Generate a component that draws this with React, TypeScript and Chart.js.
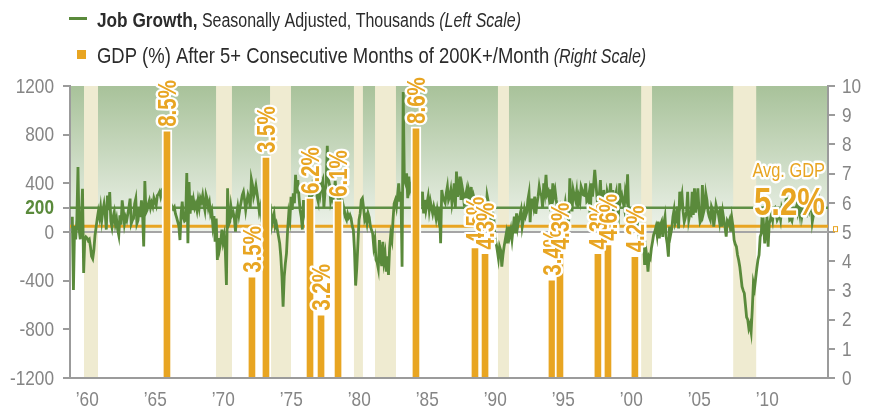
import React, { useEffect, useRef } from 'react';
import { Chart, registerables } from 'chart.js';

Chart.register(...registerables);

const FONT = "'Liberation Sans', Arial, sans-serif";
const SX = 0.82; // horizontal compression to mimic a condensed face
const GREEN = '#5a8a3b';
const ORANGE = '#e8a522';
const GRAY = '#858585';
const TEXT = '#2b2b2b';

// Monthly job growth (thousands), starting July 1959
const jobStart = 1959.5;
const jobs1959to1969 = [
  126, -477, 50, -60, 100, 534,
  20, -60, 120, 356, -337, -60, -40, -50, -70, -60, -120, -200,
  -219, -150, -30, 40, 110, 170, 120, 200, 100, 180, 230, 150,
  20, 300, 180, 329, 90, 40, 123, 164, 68, 110, 20, -27,
  137, 60, 260, 178, 68, 123, 96, 150, 205, 274, 68, 96,
  110, 233, 274, 68, 96, 205, 123, 260, 150, -118, 419, 160,
  180, 230, 260, 200, 240, 210, 280, 250, 220, 300, 310, 330,
  290, 330, 310, 250, 280, 300, 200, 220, 200, 180, 210, 190,
  205, 150, 120, 85, 50, -66, 150, 250, 120, 90, 100, 485,
  -93, 411, 150, 300, 180, 260, 200, 230, 180, 260, 200, 277,
  250, 300, 230, 180, 304, 270, 200, 240, 150, 180, 58, 130,
];
const jobs1970to1979 = [
  -80, 110, -230, -50, -134, -80, 20, -80, -30, -150, -436, 359,
  60, 85, 208, 140, 160, 112, 3, 150, 208, 140, 200, 249,
  304, 330, 263, 181, 250, 304, 270, 200, 433, 386, 290, 330,
  380, 318, 250, 167, 208, 126, 150, 263, 200, 300, 250, 150,
  153, 181, 60, 112, 150, 44, 70, 16, -38, -93, -203, -367,
  -614, -367, -258, -175, 16, 153, 100, 290, 181, 318, 236, 470,
  318, 427, 290, 181, 126, 20, 263, 160, 200, 140, 230, 280,
  200, 290, 373, 330, 350, 400, 290, 250, 427, 330, 400, 427,
  200, 330, 400, 709, 430, 386, 250, 290, 260, 330, 420, 300,
  300, 250, 350, -66, 153, 222, 180, 120, 99, 150, 120, 140,
];
const jobs1980to1989 = [
  112, 50, 16, -150, -440, -300, -100, 100, 153, 263, 277, 200,
  100, 126, 71, 153, 120, 50, 16, -10, -120, -66, -230, -250,
  -300, -66, -189, -280, -80, -240, -180, -326, -200, -353, -130, -20,
  -66, 100, 235, 262, 208, 300, 400, 250, 330, -285, 1150, 427,
  400, 482, 277, 455, 350, 380, 300, 280, 300, 280, 330, 300,
  318, 208, 263, 331, 153, 263, 180, 236, 290, 180, 250, 200,
  153, 208, 167, 112, 181, 120, 200, -93, 345, 290, 263, 240,
  318, 373, 263, 290, 345, 236, 300, 400, 200, 496, 290, 350,
  455, 263, 373, 318, 208, 300, 345, 200, 330, 280, 370, 250,
  300, 263, 200, 180, 150, 120, 200, 100, 250, 150, 250, 150,
];
const jobs1990to1999 = [
  300, 250, 181, 126, 208, 71, 100, -50, -93, -150, -216, -120,
  -150, -285, -189, -120, -66, -11, -93, 44, -30, 20, -60, 30,
  126, -11, 153, 44, 99, 140, 181, 44, 100, 181, 130, 160,
  263, 318, 80, 263, 263, 208, 290, 150, 230, 290, 373, 318,
  300, 200, 400, 331, 469, 310, 331, 260, 350, 230, 400, 300,
  345, 263, 200, 140, 100, 181, 126, 200, 167, 236, 150, 153,
  85, 441, 277, 170, 345, 300, 263, 331, 200, 290, 250, 373,
  345, 304, 300, 400, 250, 260, 318, 100, 400, 290, 386, 510,
  400, 290, 150, 300, 427, 208, 100, 345, 263, 180, 331, 290,
  300, 400, 150, 345, 222, 290, 331, 200, 150, 400, 263, 300,
];
const jobs2000to2009 = [
  250, 200, 330, 280, 474, 150, 85, 100, 120, 50, 100, 60,
  30, 50, -20, -150, -40, -107, -60, -271, -134, -203, -326, -200,
  -216, -134, -80, -20, 3, 40, -25, 85, -52, 60, 85, -40,
  71, 126, -38, -100, -203, 44, -20, 30, 126, 181, 71, 100,
  208, 30, 331, 249, 304, 167, 85, 120, 167, 331, 100, 150,
  140, 331, 140, 359, 160, 249, 359, 180, 80, 100, 386, 160,
  200, 318, 263, 167, 126, 100, 208, 180, 44, 120, 222, 180,
  153, 90, 208, 44, 160, 99, 40, -38, 90, 71, 100, 3,
  112, 44, -66, -100, -120, -189, -230, -285, -367, -450, -480, -504,
  -600, -700, -720, -792, -760, -820, -641, -420, -463, -380, -300, -230,
];
const jobs2010to2014 = [
  -189, -40, -11, 208, 58, -93, 16, 126, -120, 71, 99, 153,
  100, 190, 200, 150, 100, 120, 150, 100, 200, 170, 160, 200,
  280, 260, 200, 100, 110, 90, 150, 170, 180, 210, 160, 220,
  150, 260, 140, 200, 200, 170, 150, 200, 170, 220, 250, 85,
  140, 200, 220, 277, 220, 260, 210,
];
const jobGrowth = [
  ...jobs1959to1969, ...jobs1970to1979, ...jobs1980to1989,
  ...jobs1990to1999, ...jobs2000to2009, ...jobs2010to2014,
];

// GDP bars (right scale)
const gdpDates = [1966.46, 1972.71, 1973.74, 1976.98, 1977.79, 1979.04, 1984.77, 1989.11, 1989.85, 1994.77, 1995.36, 1998.15, 1998.89, 2000.87];
const gdpValues = [8.5, 3.5, 7.6, 6.2, 2.2, 6.1, 8.6, 4.5, 4.3, 3.4, 4.3, 4.3, 4.6, 4.2];
const gdpLabels = ['8.5%', '3.5%', '3.5%', '6.2%', '3.2%', '6.1%', '8.6%', '4.5%', '4.3%', '3.4%', '4.3%', '4.3%', '4.6%', '4.2%'];

// Recession shading (start, end)
const recessionStarts = [1960.36, 1970.07, 1974.04, 1980.21, 1981.76, 1990.8, 2001.33, 2008.1];
const recessionEnds = [1961.39, 1971.24, 1975.58, 1980.87, 1983.3, 1991.61, 2002.13, 2009.79];

const avgGdp = 5.2;
const avgGdpLabel = '5.2%';
const jobThreshold = 200;
const leftTicks = [-1200, -800, -400, 0, 200, 400, 800, 1200];
const rightTicks = [0, 1, 2, 3, 4, 5, 6, 7, 8, 9, 10];
const yearTicks = [1960, 1965, 1970, 1975, 1980, 1985, 1990, 1995, 2000, 2005, 2010];
const yearTickOffset = 0.6;

function drawText(ctx, text, x, y, font, color, align, stroke) {
  ctx.save();
  ctx.font = font;
  const w = ctx.measureText(text).width * SX;
  const x0 = align === 'right' ? x - w : align === 'center' ? x - w / 2 : x;
  ctx.translate(x0, y);
  ctx.scale(SX, 1);
  ctx.textAlign = 'left';
  if (stroke) {
    ctx.lineJoin = 'round';
    ctx.lineWidth = stroke / SX;
    ctx.strokeStyle = '#ffffff';
    ctx.strokeText(text, 0, 0);
  }
  ctx.fillStyle = color;
  ctx.fillText(text, 0, 0);
  ctx.restore();
  return w;
}

const decor = {
  id: 'decor',
  beforeDraw(chart) {
    const { ctx, chartArea: a, scales } = chart;
    const x = scales.x, y = scales.y;
    const y0 = y.getPixelForValue(0);
    ctx.save();
    const g = ctx.createLinearGradient(0, a.top, 0, y0);
    g.addColorStop(0, '#a8c29a');
    g.addColorStop(1, '#eef3eb');
    ctx.fillStyle = g;
    ctx.fillRect(a.left, a.top, a.right - a.left, y0 - a.top);
    ctx.fillStyle = '#efebd1';
    recessionStarts.forEach((s, i) => {
      const xs = x.getPixelForValue(s);
      const xe = x.getPixelForValue(recessionEnds[i]);
      ctx.fillRect(xs, a.top, xe - xs, a.bottom - a.top);
    });
    ctx.restore();
  },
  beforeDatasetsDraw(chart) {
    const { ctx, chartArea: a, scales } = chart;
    const hline = (py, color, w) => {
      ctx.beginPath();
      ctx.moveTo(a.left, py);
      ctx.lineTo(a.right, py);
      ctx.strokeStyle = color;
      ctx.lineWidth = w;
      ctx.stroke();
    };
    ctx.save();
    hline(scales.y.getPixelForValue(0), '#a5a5a5', 2);
    hline(scales.y.getPixelForValue(jobThreshold), '#5e8f45', 2.5);
    const ya = scales.y1.getPixelForValue(avgGdp);
    hline(ya, ORANGE, 3);
    ctx.strokeStyle = ORANGE;
    ctx.lineWidth = 1;
    ctx.strokeRect(a.right + 5.5, ya + 0.5, 4, 5);
    ctx.restore();
  },
  afterDatasetsDraw(chart) {
    const { ctx, chartArea: a, scales } = chart;
    const meta = chart.getDatasetMeta(1);
    ctx.save();
    ctx.textBaseline = 'alphabetic';
    meta.data.forEach((el, i) => {
      ctx.save();
      ctx.translate(el.x, el.y - 3);
      ctx.rotate(-Math.PI / 2);
      drawText(ctx, gdpLabels[i], 0, 9, `bold 25px ${FONT}`, ORANGE, 'left', 4);
      ctx.restore();
    });
    const ya = scales.y1.getPixelForValue(avgGdp);
    drawText(ctx, avgGdpLabel, a.right - 3, ya - 11, `bold 38px ${FONT}`, ORANGE, 'right', 4);
    drawText(ctx, 'Avg. GDP', a.right - 3, ya - 49, `20px ${FONT}`, ORANGE, 'right', 4);
    ctx.restore();
  },
  afterDraw(chart) {
    const { ctx, scales } = chart;
    ctx.save();
    // tick labels
    ctx.textBaseline = 'middle';
    leftTicks.forEach((v) => {
      const isT = v === jobThreshold;
      drawText(ctx, String(v), 54, scales.y.getPixelForValue(v) + 1,
        `${isT ? 'bold ' : ''}21px ${FONT}`, isT ? GREEN : GRAY, 'right');
    });
    rightTicks.forEach((v) => {
      drawText(ctx, String(v), 842, scales.y1.getPixelForValue(v) + 1, `21px ${FONT}`, GRAY, 'left');
    });
    ctx.textBaseline = 'alphabetic';
    yearTicks.forEach((v) => {
      const label = '\u2019' + String(v % 100).padStart(2, '0');
      drawText(ctx, label, scales.x.getPixelForValue(v + yearTickOffset), 406, `21px ${FONT}`, GRAY, 'center');
    });
    // legend
    ctx.strokeStyle = GREEN;
    ctx.lineWidth = 3;
    ctx.beginPath();
    ctx.moveTo(69, 18.5);
    ctx.lineTo(87, 18.5);
    ctx.stroke();
    ctx.fillStyle = ORANGE;
    ctx.fillRect(77, 50, 9, 9);
    const row = (segs, x0, yb) => {
      let xx = x0;
      segs.forEach(([t, f]) => {
        xx += drawText(ctx, t, xx, yb, `${f} ${FONT}`, TEXT, 'left');
      });
    };
    row([
      ['Job Growth,', 'bold 21px'],
      [' Seasonally Adjusted, Thousands', '19.5px'],
      [' (Left Scale)', 'italic 19.5px'],
    ], 97, 27);
    row([
      ['GDP (%) After 5+ Consecutive Months of 200K+/Month', '22.5px'],
      [' (Right Scale)', 'italic 19.5px'],
    ], 97, 63);
    ctx.restore();
  },
};

export default function App() {
  const ref = useRef(null);
  useEffect(() => {
    const lineData = jobGrowth.map((v, i) => ({ x: jobStart + i / 12, y: v }));
    const barData = gdpDates.map((d, i) => ({ x: d, y: gdpValues[i] }));
    const chart = new Chart(ref.current, {
      type: 'bar',
      data: {
        datasets: [
          {
            type: 'line',
            label: 'Job Growth',
            data: lineData,
            xAxisID: 'x',
            yAxisID: 'y',
            borderColor: GREEN,
            borderWidth: 2.8,
            pointRadius: 0,
            tension: 0,
            order: 2,
          },
          {
            type: 'bar',
            label: 'GDP',
            data: barData,
            xAxisID: 'x',
            yAxisID: 'y1',
            backgroundColor: ORANGE,
            borderColor: '#ffffff',
            borderWidth: { top: 2, left: 2, right: 2, bottom: 0 },
            barThickness: 10,
            grouped: false,
            order: 1,
          },
        ],
      },
      options: {
        animation: false,
        responsive: false,
        devicePixelRatio: 1,
        layout: { padding: { top: 86, left: 0, right: 0, bottom: 0 } },
        plugins: { legend: { display: false }, tooltip: { enabled: false } },
        scales: {
          x: {
            type: 'linear',
            min: 1959.33,
            max: 2015.07,
            offset: false,
            grid: { display: false, drawTicks: false },
            border: { display: true, color: '#9b9b9b', width: 2 },
            afterBuildTicks: (s) => {
              s.ticks = yearTicks.map((v) => ({ value: v + yearTickOffset }));
            },
            ticks: { display: false },
            afterFit: (s) => { s.height = 28; },
          },
          y: {
            position: 'left',
            min: -1200,
            max: 1200,
            grid: { drawOnChartArea: false, drawTicks: true, tickLength: 7, color: '#9b9b9b', lineWidth: 2 },
            border: { display: true, color: '#9b9b9b', width: 2 },
            afterBuildTicks: (s) => {
              s.ticks = leftTicks.map((v) => ({ value: v }));
            },
            ticks: { display: false },
            afterFit: (s) => { s.width = 70; },
          },
          y1: {
            position: 'right',
            min: 0,
            max: 10,
            grid: { drawOnChartArea: false, drawTicks: true, tickLength: 7, color: '#9b9b9b', lineWidth: 2 },
            border: { display: true, color: '#9b9b9b', width: 2 },
            afterBuildTicks: (s) => {
              s.ticks = rightTicks.map((v) => ({ value: v }));
            },
            ticks: { display: false },
            afterFit: (s) => { s.width = 47; },
          },
        },
      },
      plugins: [decor],
    });
    return () => chart.destroy();
  }, []);
  return (
    <div style={{ position: 'fixed', left: 0, top: 0, width: 875, height: 406, background: '#ffffff' }}>
      <canvas ref={ref} width={875} height={406} style={{ display: 'block', width: 875, height: 406 }} />
    </div>
  );
}
